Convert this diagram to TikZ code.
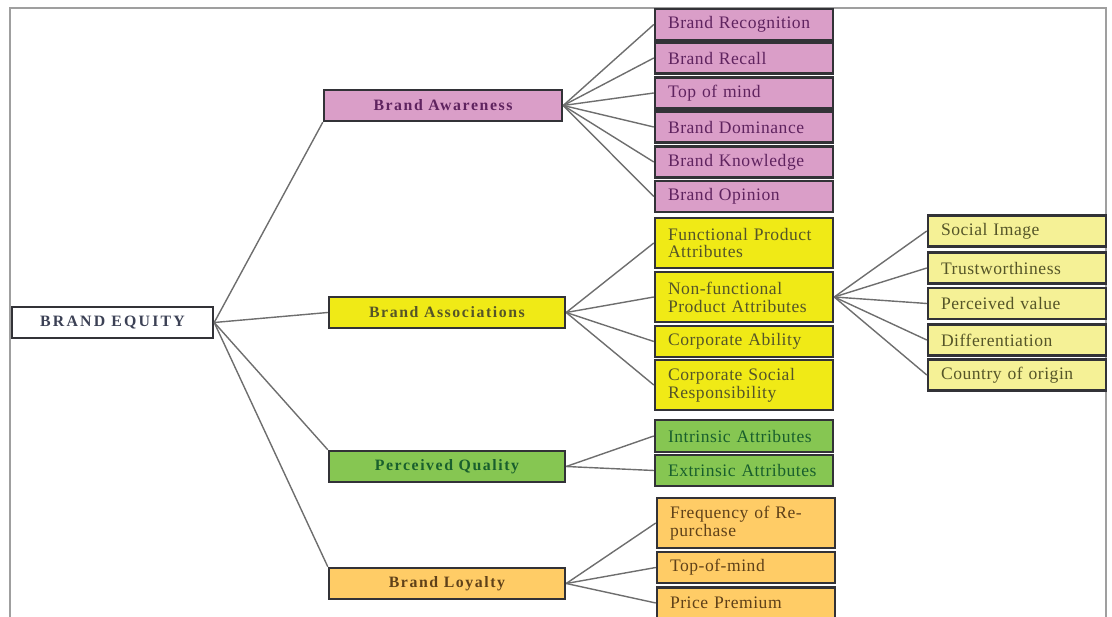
\documentclass[tikz,border=0pt]{standalone}
\usepackage{fontspec}
\setmainfont{Liberation Serif}
\usetikzlibrary{positioning}
\definecolor{awfill}{RGB}{218,158,200}
\definecolor{awtext}{RGB}{95,35,95}
\definecolor{asfill}{RGB}{240,234,22}
\definecolor{astext}{RGB}{85,85,40}
\definecolor{nffill}{RGB}{245,241,150}
\definecolor{pqfill}{RGB}{134,198,82}
\definecolor{pqtext}{RGB}{25,95,45}
\definecolor{blfill}{RGB}{255,204,102}
\definecolor{bltext}{RGB}{95,65,25}
\definecolor{betext}{RGB}{60,65,85}
\definecolor{boxline}{RGB}{50,50,55}
\definecolor{linkgray}{RGB}{110,110,110}
\newcommand{\headfont}{\fontsize{9}{10}\selectfont\bfseries\addfontfeature{LetterSpace=10}}
\newcommand{\leaffont}{\fontsize{10}{10.2}\selectfont\addfontfeature{LetterSpace=3}}

\begin{document}
\begin{tikzpicture}[x=0.02cm, y=-0.02cm,
  headbox/.style={draw=boxline, line width=1.4pt, minimum height=0.62cm, inner sep=0pt, font=\headfont},
  leafbox/.style={draw=boxline, line width=1.4pt, text width=3.04cm, align=left, inner xsep=0.26cm, inner ysep=0pt, font=\leaffont},
  link/.style={linkgray, line width=0.8pt}]
\useasboundingbox (0,0) rectangle (1112,617);
\draw[gray!75, line width=1.2pt] (10,617) -- (10,8) -- (1106,8) -- (1106,617);

% first level
\node[headbox, minimum width=4.02cm, fill=white, text=betext, font=\headfont\addfontfeature{LetterSpace=14}] (be) at (112.5,322.5) {BRAND EQUITY};
\node[headbox, minimum width=4.76cm, fill=awfill, text=awtext] (aw) at (443,105.5) {Brand Awareness};
\node[headbox, minimum width=4.72cm, fill=asfill, text=astext] (as) at (447,312.5) {Brand Associations};
\node[headbox, minimum width=4.72cm, fill=pqfill, text=pqtext] (pq) at (447,466.5) {Perceived Quality};
\node[headbox, minimum width=4.72cm, fill=blfill, text=bltext] (bl) at (447,583.5) {Brand Loyalty};

\draw[link] (be.east) -- (aw.south west);
\draw[link] (be.east) -- (as.west);
\draw[link] (be.east) -- (pq.north west);
\draw[link] (be.east) -- (bl.north west);

% awareness
\foreach \nm/\y/\txt in {rec/24.5/{Brand Recognition}, rcl/58/{Brand Recall}, tom/93/{Top of mind},
  dom/127/{Brand Dominance}, kno/162/{Brand Knowledge}, opi/196.5/{Brand Opinion}}{
  \node[leafbox, minimum height=0.62cm, fill=awfill, text=awtext] (\nm) at (744,\y) {\txt};
  \draw[link] (aw.east) -- (\nm.west);
}

% associations
\foreach \nm/\y/\h/\txt in {fpa/243/1.0/{Functional Product\\Attributes}, nfp/297/1.0/{Non-functional\\Product Attributes},
  cab/341.5/0.62/{Corporate Ability}, csr/385/1.0/{Corporate Social\\Responsibility}}{
  \node[leafbox, minimum height=\h cm, fill=asfill, text=astext] (\nm) at (744,\y) {\txt};
  \draw[link] (as.east) -- (\nm.west);
}

% non-functional attributes
\foreach \nm/\y/\txt in {soc/231/{Social Image}, tru/268/{Trustworthiness}, pvl/303.5/{Perceived value},
  dif/340/{Differentiation}, coo/375/{Country of origin}}{
  \node[leafbox, minimum height=0.62cm, fill=nffill, text=astext] (\nm) at (1017,\y) {\txt};
  \draw[link] (nfp.east) -- (\nm.west);
}

% perceived quality
\node[leafbox, minimum height=0.64cm, fill=pqfill, text=pqtext] (int) at (744,436) {Intrinsic Attributes};
\node[leafbox, minimum height=0.62cm, fill=pqfill, text=pqtext] (ext) at (744,470.5) {Extrinsic Attributes};
\draw[link] (pq.east) -- (int.west);
\draw[link] (pq.east) -- (ext.west);

% loyalty
\node[leafbox, minimum height=1.0cm, fill=blfill, text=bltext] (frq) at (746,523) {Frequency of Re-\\purchase};
\node[leafbox, minimum height=0.62cm, fill=blfill, text=bltext] (tmd) at (746,567.5) {Top-of-mind};
\node[leafbox, minimum height=0.62cm, fill=blfill, text=bltext] (prp) at (746,603) {Price Premium};
\foreach \nm in {frq, tmd, prp}{
  \draw[link] (bl.east) -- (\nm.west);
}
\end{tikzpicture}
\end{document}
